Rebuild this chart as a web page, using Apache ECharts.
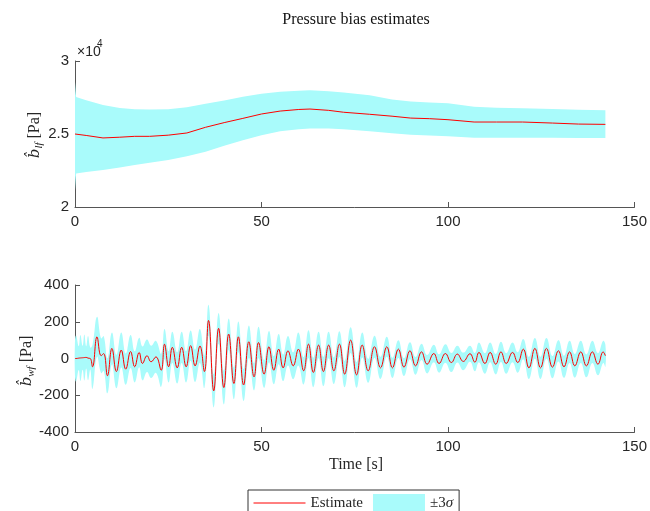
<!DOCTYPE html>
<html>
<head>
<meta charset="utf-8">
<script src="https://cdn.jsdelivr.net/npm/echarts@6/dist/echarts.min.js"></script>
<style>
html,body{margin:0;padding:0;background:#fff}
#chart{width:650px;height:511px}
</style>
</head>
<body>
<div id="chart"></div>
<script>
// top subplot: low frequency bias [Pa]
var lfTime  = [0, 0.3, 3, 7.5, 12, 16, 20, 25, 30, 35, 40, 45, 50, 55, 60, 63, 68, 72, 79, 85, 90, 95, 100, 107, 113, 120, 128, 135, 142.2];
var lfEst   = [25000, 25000, 24900, 24730, 24780, 24840, 24840, 24920, 25070, 25460, 25780, 26070, 26370, 26570, 26680, 26710, 26620, 26490, 26350, 26220, 26090, 26050, 25980, 25820, 25820, 25820, 25750, 25680, 25660];
var lfUpper = [28560, 27530, 27310, 26980, 26780, 26700, 26670, 26700, 26840, 27070, 27300, 27550, 27760, 27900, 27970, 27990, 27930, 27840, 27650, 27370, 27220, 27150, 27100, 26870, 26800, 26770, 26710, 26660, 26620];
var lfLower = [21140, 22290, 22400, 22540, 22700, 22870, 23030, 23220, 23470, 23780, 24190, 24580, 24920, 25180, 25320, 25370, 25370, 25330, 25180, 25050, 24950, 24900, 24840, 24750, 24750, 24750, 24740, 24730, 24730];

// bottom subplot: wave frequency bias [Pa], read at the peaks / troughs
var wfTime = [0, 0.3, 1.0, 1.45, 2.05, 2.5, 3.0, 3.5, 4.1, 4.7, 5.9, 7.0, 7.7, 8.7, 9.9, 11.1, 12.4, 13.6, 14.9, 16.0,
  17.2, 18.1, 19.3, 20.4, 21.7, 23.1, 24.0, 25.1, 26.1, 27.4, 28.6, 29.8, 31.0, 32.2, 33.5, 34.7, 35.8, 37.2, 38.5, 39.9,
  41.2, 42.6, 43.8, 45.2, 46.6, 48.0, 49.2, 50.7, 52.0, 53.3, 54.6, 55.8, 57.1, 58.5, 59.9, 61.3, 62.6, 63.9, 65.3, 66.6,
  68.0, 69.4, 70.9, 72.3, 73.9, 75.5, 77.0, 78.6, 80.3, 81.9, 83.6, 85.1, 86.7, 88.2, 89.8, 91.3, 92.9, 94.4, 96.2, 97.6,
  99.3, 100.9, 102.5, 104.1, 105.9, 107.2, 108.3, 109.9, 111.3, 112.8, 114.2, 115.6, 117.3, 118.7, 120.2, 121.7, 123.3, 124.8, 126.4, 128.0,
  129.6, 131.1, 132.6, 134.0, 135.6, 137.1, 138.7, 140.2, 141.6, 142.2];
var wfEst = [0, 0, 2, 3, 4, 5, 6, 2, 0, -45, 118, 15, 27, -94, 55, -71, 46, -58, 38, -45,
  33, -27, 15, -18, 9, -64, 78, -45, 61, -51, 61, -45, 70, -40, 68, -71, 207, -176, 164, -158,
  133, -136, 118, -144, 91, -100, 87, -85, 64, -64, 51, -51, 42, -40, 51, -67, 78, -76, 73, -71,
  73, -67, 78, -85, 100, -89, 73, -67, 64, -51, 64, -51, 51, -47, 42, -40, 36, -31, 27, -27,
  27, -22, 24, -16, 26, -20, 33, -27, 33, -31, 36, -27, 33, -22, 51, -51, 55, -51, 55, -47,
  42, -45, 36, -40, 36, -40, 36, -31, 36, 15];
var wf3Sigma = [100, 125, 65, 125, 65, 125, 60, 120, 60, 120, 109, 95, 95, 95, 87, 91, 95, 85, 90, 85,
  80, 92, 88, 88, 87, 90, 82, 85, 85, 85, 85, 85, 82, 88, 92, 88, 85, 90, 84, 92,
  85, 86, 84, 87, 88, 74, 86, 75, 85, 76, 82, 72, 80, 73, 90, 74, 76, 80, 72, 80,
  72, 72, 70, 72, 70, 70, 68, 65, 60, 60, 55, 55, 48, 48, 46, 48, 44, 50, 48, 50,
  50, 52, 46, 48, 44, 50, 54, 56, 54, 56, 55, 56, 54, 56, 55, 60, 56, 60, 56, 60,
  58, 60, 60, 64, 60, 62, 60, 60, 60, 60];

var xRange = [0, 150, 50];
var lfRange = [20000, 30000, 5000];
var wfRange = [-400, 400, 200];

var RED = '#ff0000';
var CYAN = '#a9fbfb';
var AXIS = '#555555';
var TXT = '#262626';
var SERIF = '"Liberation Serif", "DejaVu Serif", serif';
var SANS = '"Liberation Sans", Arial, sans-serif';

function zip(t, v) {
  var out = [];
  for (var i = 0; i < t.length; i++) out.push([t[i], v[i]]);
  return out;
}

var wfUpper = wfEst.map(function (e, i) { return e + wf3Sigma[i]; });
var wfLower = wfEst.map(function (e, i) { return e - wf3Sigma[i]; });

function xAxisOf(grid) {
  return {
    type: 'value', gridIndex: grid, min: xRange[0], max: xRange[1], interval: xRange[2],
    axisLine: { onZero: false, lineStyle: { color: AXIS, width: 1 } },
    axisTick: { inside: true, length: 5, lineStyle: { color: AXIS } },
    axisLabel: { color: TXT, fontFamily: SANS, fontSize: 15, margin: 7 },
    splitLine: { show: false }
  };
}
function yAxisOf(grid, r, fmt) {
  return {
    type: 'value', gridIndex: grid, min: r[0], max: r[1], interval: r[2],
    axisLine: { show: true, onZero: false, lineStyle: { color: AXIS, width: 1 } },
    axisTick: { show: true, inside: true, length: 5, lineStyle: { color: AXIS } },
    axisLabel: { color: TXT, fontFamily: SANS, fontSize: 15, margin: 6, formatter: fmt },
    splitLine: { show: false }
  };
}

// the ±3σ band: one polygon, upper edge forwards then lower edge backwards
function bandSeries(idx, time, upper, lower, smooth) {
  return {
    name: '±3σ', type: 'custom', xAxisIndex: idx, yAxisIndex: idx,
    data: zip(time, upper), encode: { x: 0, y: 1 }, silent: true, color: CYAN,
    renderItem: function (params, api) {
      if (params.dataIndex !== 0) return;
      var pts = [], i;
      for (i = 0; i < time.length; i++) pts.push(api.coord([time[i], upper[i]]));
      for (i = time.length - 1; i >= 0; i--) pts.push(api.coord([time[i], lower[i]]));
      return { type: 'polygon', shape: { points: pts, smooth: smooth }, style: { fill: CYAN, stroke: null } };
    }
  };
}
function estSeries(idx, time, est, smooth) {
  return {
    name: 'Estimate', type: 'line', xAxisIndex: idx, yAxisIndex: idx,
    data: zip(time, est), symbol: 'none', smooth: smooth, silent: true, color: RED,
    lineStyle: { color: RED, width: 1 }
  };
}

var series = [
  bandSeries(0, lfTime, lfUpper, lfLower, 0),
  estSeries(0, lfTime, lfEst, false),
  bandSeries(1, wfTime, wfUpper, wfLower, 0.45),
  estSeries(1, wfTime, wfEst, 0.45)
];

function yName(x, y, sub) {
  return {
    type: 'text', x: x, y: y, rotation: Math.PI / 2, silent: true,
    style: {
      text: '{b|b\u0302}{s|' + sub + '}{n| [Pa]}',
      align: 'center', verticalAlign: 'middle',
      rich: {
        b: { fontFamily: '"DejaVu Serif", serif', fontStyle: 'italic', fontSize: 15, lineHeight: 20, fill: TXT, color: TXT },
        s: { fontFamily: SERIF, fontStyle: 'italic', fontSize: 11, lineHeight: 10, verticalAlign: 'bottom', fill: TXT, color: TXT },
        n: { fontFamily: SERIF, fontSize: 16, lineHeight: 20, fill: TXT, color: TXT }
      }
    }
  };
}

var chart = echarts.init(document.getElementById('chart'));
chart.setOption({
  animation: false,
  backgroundColor: '#fff',
  grid: [
    { left: 75, top: 61, width: 561, height: 146 },
    { left: 75, top: 285, width: 561, height: 147 }
  ],
  xAxis: [xAxisOf(0), xAxisOf(1)],
  yAxis: [
    yAxisOf(0, lfRange, function (v) { return String(v / 10000); }),
    yAxisOf(1, wfRange, null)
  ],
  legend: {
    left: 248, top: 490, orient: 'horizontal',
    padding: [4, 6, 4, 5], itemGap: 10, itemWidth: 52, itemHeight: 18,
    borderColor: '#333', borderWidth: 1, backgroundColor: '#fff',
    selectedMode: false,
    lineStyle: { width: 1 },
    textStyle: { fontFamily: SERIF, fontSize: 15, color: TXT,
      rich: { i: { fontFamily: SERIF, fontStyle: 'italic', fontSize: 15, color: TXT } } },
    formatter: function (name) { return name === '±3σ' ? '±3{i|σ}' : name; },
    data: [
      { name: 'Estimate', itemStyle: { opacity: 0 } },
      { name: '±3σ', icon: 'rect', itemStyle: { color: CYAN, borderWidth: 0 } }
    ]
  },
  graphic: [
    { type: 'text', x: 356, y: 20, silent: true,
      style: { text: 'Pressure bias estimates', font: '16px ' + SERIF, fill: '#111', align: 'center', verticalAlign: 'middle' } },
    { type: 'text', x: 356, y: 465, silent: true,
      style: { text: 'Time [s]', font: '16px ' + SERIF, fill: TXT, align: 'center', verticalAlign: 'middle' } },
    { type: 'text', x: 77, y: 52, silent: true,
      style: { text: '\u00d710', font: '14px ' + SANS, fill: TXT, align: 'left', verticalAlign: 'middle' } },
    { type: 'text', x: 97, y: 44, silent: true,
      style: { text: '4', font: '10px ' + SANS, fill: TXT, align: 'left', verticalAlign: 'middle' } },
    yName(35, 135, 'lf'),
    yName(27, 361, 'wf')
  ],
  series: series
});
</script>
</body>
</html>
